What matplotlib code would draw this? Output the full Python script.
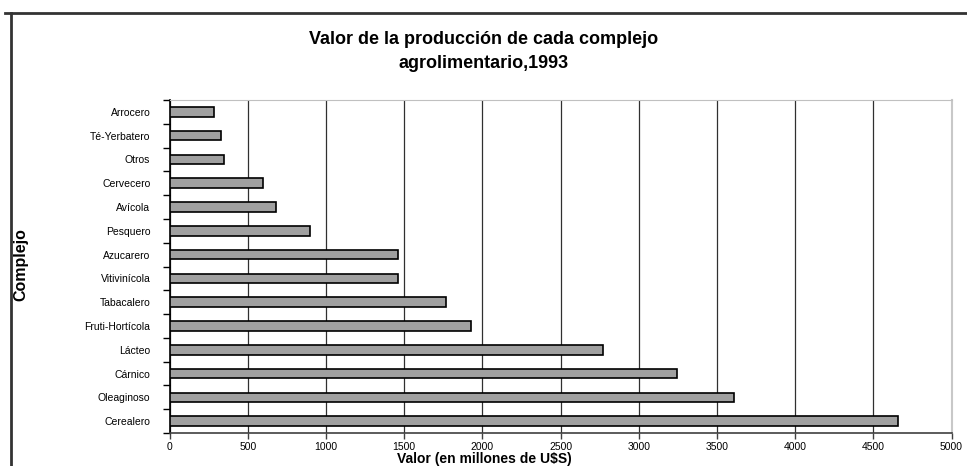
import matplotlib

matplotlib.use("Agg")
import matplotlib.pyplot as plt
from matplotlib.lines import Line2D
import numpy as np

# Valor de la producción por complejo (millones de U$S), 1993
complejos = [
    "Arrocero",
    "Té-Yerbatero",
    "Otros",
    "Cervecero",
    "Avícola",
    "Pesquero",
    "Azucarero",
    "Vitivinícola",
    "Tabacalero",
    "Fruti-Hortícola",
    "Lácteo",
    "Cárnico",
    "Oleaginoso",
    "Cerealero",
]
valores = [285, 326, 347, 597, 678, 900, 1458, 1463, 1770, 1925, 2770, 3247, 3608, 4659]
x_ticks = [0, 500, 1000, 1500, 2000, 2500, 3000, 3500, 4000, 4500, 5000]

plt.rcParams["font.family"] = ["Liberation Sans", "DejaVu Sans"]

fig = plt.figure(figsize=(9.67, 4.66), dpi=100)
ax = fig.add_axes([0.1755, 0.0708, 0.8085, 0.7146])

pos = np.arange(len(complejos))
ax.barh(pos, valores, height=0.4, color="#a0a0a0", edgecolor="black", linewidth=1.2, zorder=3)

ax.set_xlim(0, 5000)
ax.set_ylim(len(complejos) - 0.5, -0.5)
ax.set_xticks(x_ticks)
ax.set_xticklabels([str(t) for t in x_ticks], fontsize=7.5)
ax.set_yticks(pos)
ax.set_yticklabels(complejos, fontsize=7.5)
ax.set_yticks(np.arange(len(complejos) + 1) - 0.5, minor=True)
ax.tick_params(axis="y", which="major", length=0, pad=14)
ax.tick_params(axis="y", which="minor", length=5, width=1, color="black", direction="out")
ax.tick_params(axis="x", which="major", length=4, width=1, color="#404040", pad=2.5)

ax.grid(axis="x", color="#303030", linewidth=0.9, zorder=0)
ax.spines["left"].set_color("black")
ax.spines["left"].set_linewidth(1.2)
ax.spines["bottom"].set_color("#404040")
ax.spines["bottom"].set_linewidth(1.2)
ax.spines["top"].set_color("#c0c0c0")
ax.spines["right"].set_color("#c8c8c8")
ax.spines["right"].set_linewidth(1.5)

ax.set_ylabel("Complejo", fontsize=11.5, fontweight="bold")
ax.yaxis.set_label_coords(-0.181, 0.505)
ax.set_xlabel("Valor (en millones de U$S)", fontsize=10, fontweight="bold", va="bottom")
ax.xaxis.set_label_coords(0.403, -0.098)

fig.suptitle(
    "Valor de la producción de cada complejo\nagrolimentario,1993",
    x=0.5,
    y=1 - 31 / 466,
    va="top",
    fontsize=13,
    fontweight="bold",
    linespacing=1.55,
)

# outer chart frame (top and left edges visible)
fig.add_artist(Line2D([0.005, 1.0], [0.972, 0.972], color="#333333", linewidth=2, transform=fig.transFigure))
fig.add_artist(Line2D([0.0114, 0.0114], [0.0, 0.972], color="#333333", linewidth=2, transform=fig.transFigure))

fig.savefig("out.png", dpi=100)
